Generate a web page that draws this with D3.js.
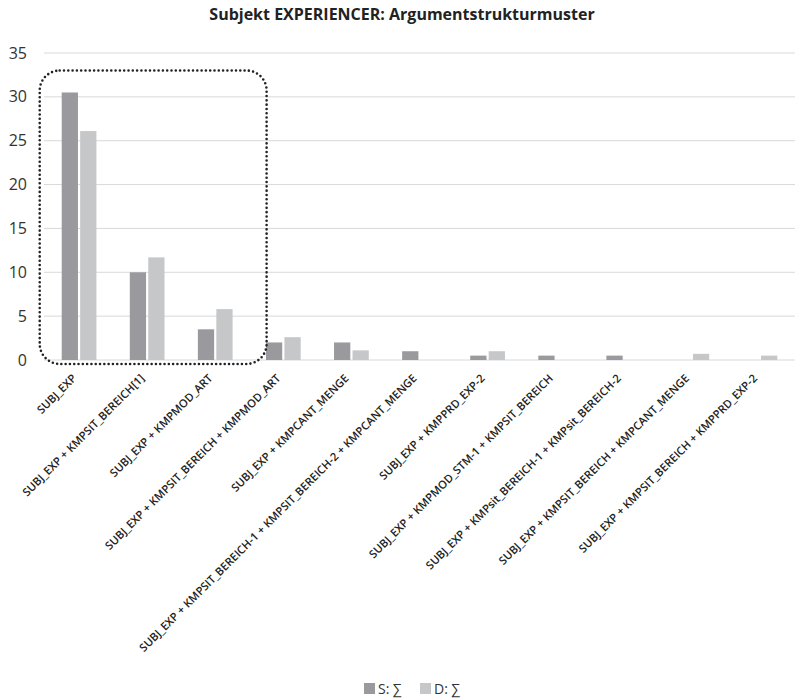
<!DOCTYPE html>
<html><head><meta charset="utf-8">
<script src="https://cdn.jsdelivr.net/npm/d3@7"></script>
<style>body{margin:0;background:#fff}svg{display:block}</style>
</head><body>
<svg id="c" width="803" height="700"></svg>
<script>
const categories = [
  "SUBJ_EXP",
  "SUBJ_EXP + KMPSIT_BEREICH[1]",
  "SUBJ_EXP + KMPMOD_ART",
  "SUBJ_EXP + KMPSIT_BEREICH + KMPMOD_ART",
  "SUBJ_EXP + KMPCANT_MENGE",
  "SUBJ_EXP + KMPSIT_BEREICH-1 + KMPSIT_BEREICH-2 + KMPCANT_MENGE",
  "SUBJ_EXP + KMPPRD_EXP-2",
  "SUBJ_EXP + KMPMOD_STM-1 + KMPSIT_BEREICH",
  "SUBJ_EXP + KMPsit_BEREICH-1 + KMPsit_BEREICH-2",
  "SUBJ_EXP + KMPSIT_BEREICH + KMPCANT_MENGE",
  "SUBJ_EXP + KMPSIT_BEREICH + KMPPRD_EXP-2"
];
const seriesNames = ["S: \u2211", "D: \u2211"];
const valuesS = [30.5, 10, 3.5, 2, 2, 1, 0.5, 0.5, 0.5, 0, 0];
const valuesD = [26.1, 11.7, 5.8, 2.6, 1.1, 0, 1.0, 0, 0, 0.7, 0.5];
const yTicks = [0, 5, 10, 15, 20, 25, 30, 35];
const colors = ["#9a9a9e", "#c6c7c9"];

const font = "'Open Sans', 'Noto Sans', sans-serif";
const svg = d3.select("#c");
const m = {left: 44, right: 795, top: 53, bottom: 360};

const x = d3.scaleBand().domain(categories).range([m.left, m.right]).paddingInner(0.49).paddingOuter(0.26);
const xs = d3.scaleBand().domain(seriesNames).range([0, x.bandwidth()]).paddingInner(0.12);
const y = d3.scaleLinear().domain([0, 35]).range([m.bottom, m.top]);

// gridlines
svg.append("g").selectAll("line").data(yTicks).join("line")
  .attr("x1", m.left).attr("x2", m.right)
  .attr("y1", d => y(d)).attr("y2", d => y(d))
  .attr("stroke", "#d9d9d9").attr("stroke-width", 1);

// y axis labels
const yAxis = d3.axisLeft(y).tickValues(yTicks).tickSize(0).tickPadding(0);
const gy = svg.append("g").attr("transform", `translate(${m.left - 17},0)`).call(yAxis);
gy.select(".domain").remove();
gy.selectAll("text").attr("font-family", font).attr("font-size", 16).attr("fill", "#333").attr("text-anchor", "end");

// bars
const data = categories.map((c, i) => ({c, vals: [valuesS[i], valuesD[i]]}));
const groups = svg.append("g").selectAll("g").data(data).join("g")
  .attr("transform", d => `translate(${x(d.c)},0)`);
groups.selectAll("rect").data(d => d.vals.map((v, j) => ({v, s: seriesNames[j], j})))
  .join("rect")
  .attr("x", d => xs(d.s)).attr("width", xs.bandwidth())
  .attr("y", d => y(d.v)).attr("height", d => y(0) - y(d.v))
  .attr("fill", d => colors[d.j]);

// x axis labels
const xAxis = d3.axisBottom(x).tickSize(0).tickPadding(0);
const gx = svg.append("g").attr("transform", `translate(0,${m.bottom})`).call(xAxis);
gx.select(".domain").remove();
gx.selectAll("text")
  .attr("font-family", font).attr("font-size", 11.2).attr("font-weight", 600).attr("fill", "#222")
  .attr("text-anchor", "end").attr("dy", null).attr("y", 0)
  .attr("transform", "translate(-2,19) rotate(-45)");

// dotted annotation box
const bx0 = x(categories[0]) - 22, bx1 = x(categories[2]) + x.bandwidth() + 34;
svg.append("rect")
  .attr("x", bx0).attr("y", y(33)).attr("width", bx1 - bx0).attr("height", y(-0.45) - y(33))
  .attr("rx", 20).attr("ry", 20)
  .attr("fill", "none").attr("stroke", "#222").attr("stroke-width", 2.6)
  .attr("stroke-dasharray", "0 4.3").attr("stroke-linecap", "round");

// title
svg.append("text").attr("x", 402).attr("y", 20).attr("text-anchor", "middle")
  .attr("font-family", font).attr("font-weight", 700).attr("font-size", 16).attr("fill", "#222")
  .text("Subjekt EXPERIENCER: Argumentstrukturmuster");

// legend
const lg = svg.append("g").attr("transform", "translate(364,683)");
const items = lg.selectAll("g").data(seriesNames).join("g")
  .attr("transform", (d, i) => `translate(${i * 56},0)`);
items.append("rect").attr("width", 11).attr("height", 11).attr("y", 0).attr("fill", (d, i) => colors[i]);
items.append("text").attr("x", 14).attr("y", 11).attr("font-family", font).attr("font-size", 14)
  .attr("fill", "#333").text(d => d);
</script>
</body></html>
